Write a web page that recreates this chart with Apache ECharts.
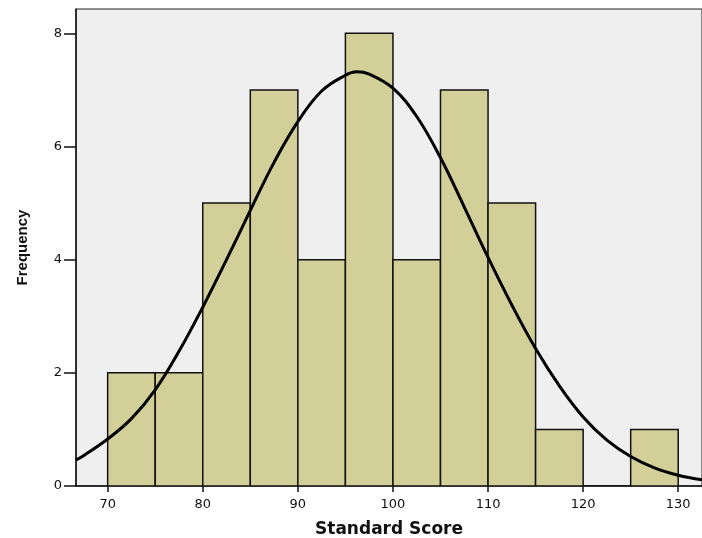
<!DOCTYPE html>
<html>
<head>
<meta charset="utf-8">
<script src="https://cdn.jsdelivr.net/npm/echarts@6/dist/echarts.min.js"></script>
<style>
html,body{margin:0;padding:0;background:#fff;}
#c{width:702px;height:538px;}
</style>
</head>
<body>
<div id="c"></div>
<script>
// Histogram bins (lower edges, width 5) and counts
var binStarts = [70, 75, 80, 85, 90, 95, 100, 105, 110, 115, 120, 125];
var binWidth = 5;
var counts = [2, 2, 5, 7, 4, 8, 4, 7, 5, 1, 0, 1];

// Normal curve points
var curveX = [66.67, 67.5, 70, 72.5, 75, 77.5, 80, 82.5, 85, 87.5, 90, 92.5, 95, 96.2, 97.5, 100, 102.5, 105, 107.5, 110, 112.5, 115, 117.5, 120, 122.5, 125, 127.5, 130, 132.5];
var curveY = [0.46, 0.54, 0.83, 1.19, 1.70, 2.38, 3.16, 4.0, 4.87, 5.72, 6.44, 6.98, 7.26, 7.32, 7.28, 7.03, 6.53, 5.80, 4.93, 4.04, 3.20, 2.43, 1.77, 1.22, 0.81, 0.52, 0.32, 0.19, 0.11];

// Tick labels
var xTicks = [70, 80, 90, 100, 110, 120, 130];
var yTicks = [0, 2, 4, 6, 8];

var histData = binStarts.map(function (s, i) { return [s, s + binWidth, counts[i]]; });
var lineData = curveX.map(function (x, i) { return [x, curveY[i]]; });

var chart = echarts.init(document.getElementById('c'), null, {renderer: 'canvas'});
chart.setOption({
  animation: false,
  backgroundColor: '#ffffff',
  grid: {
    left: 76, right: 0, top: 9, bottom: 52,
    containLabel: false,
    outerBoundsMode: 'none',
    show: true, backgroundColor: '#efefef', borderColor: '#222', borderWidth: 1
  },
  xAxis: {
    type: 'value',
    min: 66.67, max: 132.5,
    splitLine: {show: false},
    axisLine: {show: true, lineStyle: {color: '#111', width: 1.5}},
    axisTick: {show: true, length: 6, customValues: xTicks, lineStyle: {color: '#111', width: 1.5}},
    axisLabel: {
      customValues: xTicks, margin: 12,
      fontFamily: 'DejaVu Sans', fontSize: 13, color: '#111'
    },
    name: 'Standard Score',
    nameLocation: 'middle',
    nameGap: 35,
    nameTextStyle: {fontFamily: 'DejaVu Sans', fontWeight: 'bold', fontSize: 17, color: '#111'}
  },
  yAxis: {
    type: 'value',
    min: 0, max: 8.43,
    splitLine: {show: false},
    axisLine: {show: true, lineStyle: {color: '#111', width: 1.5}},
    axisTick: {show: true, length: 12, customValues: yTicks, lineStyle: {color: '#111', width: 1.5}},
    axisLabel: {
      customValues: yTicks, margin: 14,
      fontFamily: 'DejaVu Sans', fontSize: 13, color: '#111'
    },
    name: 'Frequency',
    nameLocation: 'middle',
    nameGap: 46,
    nameRotate: 90,
    nameTextStyle: {fontFamily: 'Liberation Sans', fontWeight: 'bold', fontSize: 15, color: '#111'}
  },
  series: [
    {
      type: 'custom',
      data: histData,
      encode: {x: [0, 1], y: 2},
      clip: true,
      renderItem: function (params, api) {
        var p0 = api.coord([api.value(0), 0]);
        var p1 = api.coord([api.value(1), api.value(2)]);
        return {
          type: 'rect',
          shape: {x: p0[0], y: p1[1], width: p1[0] - p0[0], height: p0[1] - p1[1]},
          style: {fill: '#d3cf99', stroke: '#111', lineWidth: 1.5}
        };
      },
      z: 2
    },
    {
      type: 'line',
      data: lineData,
      smooth: 0.4,
      showSymbol: false,
      symbol: 'none',
      clip: true,
      lineStyle: {color: '#000', width: 3},
      z: 3
    }
  ]
});
</script>
</body>
</html>
